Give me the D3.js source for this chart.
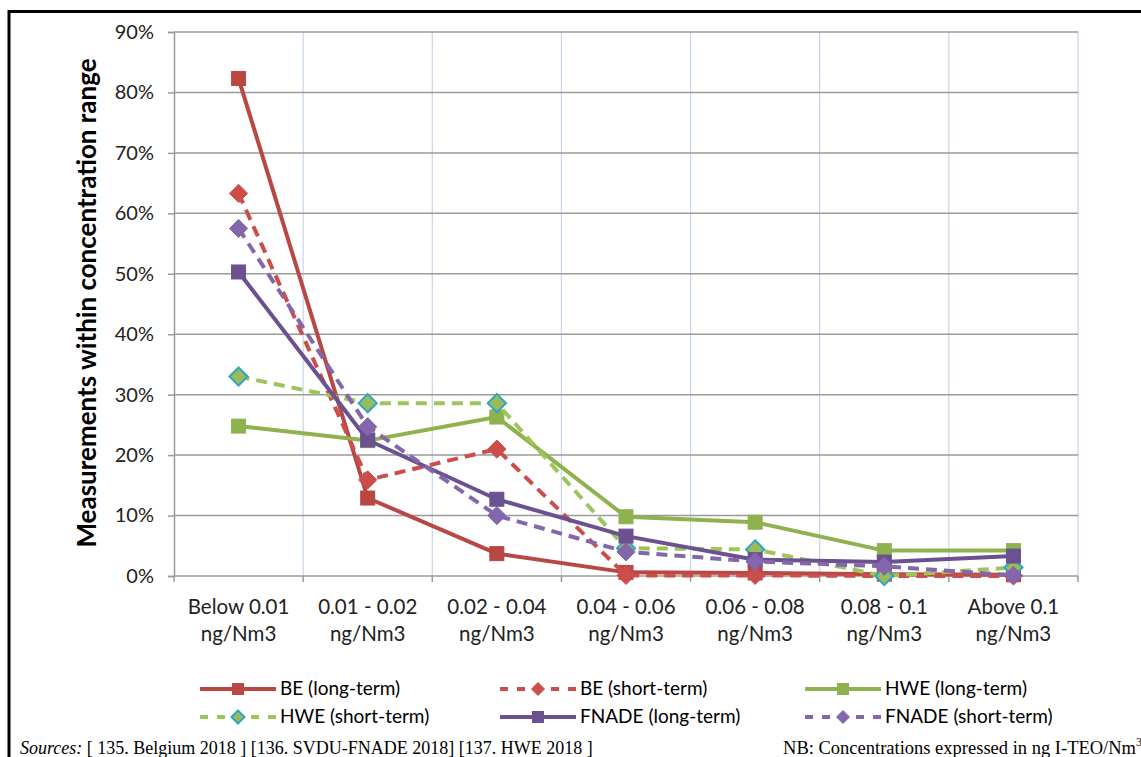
<!DOCTYPE html>
<html><head><meta charset="utf-8">
<script src="https://cdn.jsdelivr.net/npm/d3@7"></script>
<style>
html,body{margin:0;padding:0;background:#fff;}
svg{display:block;}
</style></head>
<body>
<svg id="chart" width="1141" height="757"></svg>
<script>
const categories = ["Below 0.01|ng/Nm3","0.01 - 0.02|ng/Nm3","0.02 - 0.04|ng/Nm3","0.04 - 0.06|ng/Nm3","0.06 - 0.08|ng/Nm3","0.08 - 0.1|ng/Nm3","Above 0.1|ng/Nm3"];
const yTicks = [0,10,20,30,40,50,60,70,80,90];
const beLong = [82.3, 12.9, 3.7, 0.6, 0.5, 0.3, 0.2];
const beShort = [63.3, 15.9, 21.0, 0.1, 0.1, 0.0, 0.0];
const hweLong = [24.8, 22.4, 26.3, 9.8, 8.9, 4.2, 4.2];
const hweShort = [33.0, 28.6, 28.6, 4.6, 4.4, 0.0, 1.4];
const fnadeLong = [50.3, 22.5, 12.7, 6.6, 2.7, 2.3, 3.3];
const fnadeShort = [57.5, 24.7, 10.0, 4.0, 2.4, 1.6, 0.1];
const seriesNames = ["BE (long-term)","BE (short-term)","HWE (long-term)","HWE (short-term)","FNADE (long-term)","FNADE (short-term)"];

const series = [
  {name: seriesNames[0], values: beLong, color:"#B94743", dash:null, marker:"square", fill:"#B94743", stroke:"#B94743"},
  {name: seriesNames[1], values: beShort, color:"#CC4E4A", dash:"11,7", marker:"diamond", fill:"#CC4E4A", stroke:"#CC4E4A"},
  {name: seriesNames[2], values: hweLong, color:"#8EB24D", dash:null, marker:"square", fill:"#8EB24D", stroke:"#8EB24D"},
  {name: seriesNames[3], values: hweShort, color:"#9DC55A", dash:"11,7", marker:"diamond", fill:"#9BBB59", stroke:"#2FA6C8"},
  {name: seriesNames[4], values: fnadeLong, color:"#6B5190", dash:null, marker:"square", fill:"#6B5190", stroke:"#6B5190"},
  {name: seriesNames[5], values: fnadeShort, color:"#8466AA", dash:"11,7", marker:"diamond", fill:"#8466AA", stroke:"#8466AA"}
];

const svg = d3.select("#chart");
const font = "Lato, 'Open Sans', sans-serif";
const pLeft = 174, pRight = 1078, pTop = 32, pBottom = 576;

// frame
svg.append("line").attr("x1",8).attr("x2",1141).attr("y1",11.5).attr("y2",11.5).attr("stroke","#000").attr("stroke-width",3);
svg.append("line").attr("x1",9).attr("x2",9).attr("y1",10).attr("y2",757).attr("stroke","#000").attr("stroke-width",3);

const x = d3.scaleBand().domain(categories).range([pLeft, pRight]).paddingInner(0).paddingOuter(0);
const y = d3.scaleLinear().domain([0, 90]).range([pBottom, pTop]);
const cx = c => x(c) + x.bandwidth()/2;

// vertical gridlines (category boundaries)
const bounds = categories.map(c => x(c) + x.bandwidth());
svg.append("g").selectAll("line").data(bounds).join("line")
  .attr("x1", d => d).attr("x2", d => d).attr("y1", pTop).attr("y2", pBottom)
  .attr("stroke", "#C5D5EA").attr("stroke-width", 1.2);

// horizontal gridlines
svg.append("g").selectAll("line").data(yTicks.filter(t => t > 0)).join("line")
  .attr("x1", pLeft).attr("x2", pRight).attr("y1", d => y(d)).attr("y2", d => y(d))
  .attr("stroke", "#9A9A9A").attr("stroke-width", 1.5);

// y axis
const yAxis = d3.axisLeft(y).tickValues(yTicks).tickFormat(d => d + "%").tickSize(6).tickPadding(14);
const gy = svg.append("g").attr("transform", `translate(${pLeft},0)`).call(yAxis);
gy.select(".domain").attr("stroke", "#9A9A9A").attr("stroke-width", 1.5);
gy.selectAll(".tick line").attr("stroke", "#9A9A9A").attr("stroke-width", 1.5);
gy.selectAll(".tick text").attr("font-family", font).attr("font-size", 20).attr("fill", "#222");

// x axis
const xAxis = d3.axisBottom(x).tickSize(0).tickFormat("");
const gx = svg.append("g").attr("transform", `translate(0,${pBottom})`).call(xAxis);
gx.select(".domain").attr("stroke", "#9A9A9A").attr("stroke-width", 1.5).attr("d", `M${pLeft},0H${pRight}`);
svg.append("g").selectAll("line").data([pLeft].concat(bounds)).join("line")
  .attr("x1", d => d).attr("x2", d => d).attr("y1", pBottom).attr("y2", pBottom + 6)
  .attr("stroke", "#9A9A9A").attr("stroke-width", 1.5);
const xl = svg.append("g").selectAll("text").data(categories).join("text")
  .attr("x", d => cx(d)).attr("y", 614).attr("text-anchor", "middle")
  .attr("font-family", font).attr("font-size", 20.5).attr("fill", "#222");
xl.each(function(d){
  const parts = d.split("|");
  d3.select(this).selectAll("tspan").data(parts).join("tspan")
    .attr("x", cx(d)).attr("dy", (p, i) => i === 0 ? 0 : 27).text(p => p);
});

// y title
svg.append("text").attr("transform", "translate(96,303) rotate(-90)")
  .attr("text-anchor", "middle").attr("font-family", font).attr("font-weight", "bold")
  .attr("font-size", 26).attr("fill", "#000").text("Measurements within concentration range");

// markers
function drawMarker(g, s, px, py, size) {
  if (s.marker === "square") {
    g.append("rect").attr("x", px - size/2).attr("y", py - size/2).attr("width", size).attr("height", size)
      .attr("fill", s.fill).attr("stroke", s.stroke).attr("stroke-width", 1);
  } else {
    const r = size * 0.65;
    g.append("path").attr("d", `M${px},${py-r}L${px+r},${py}L${px},${py+r}L${px-r},${py}Z`)
      .attr("fill", s.fill).attr("stroke", s.stroke).attr("stroke-width", s.stroke === s.fill ? 1 : 2);
  }
}

const line = d3.line().x((d, i) => cx(categories[i])).y(d => y(d));
const plot = svg.append("g");
series.forEach(s => {
  const g = plot.append("g");
  g.append("path").attr("d", line(s.values)).attr("fill", "none").attr("stroke", s.color)
    .attr("stroke-width", 4).attr("stroke-dasharray", s.dash).attr("stroke-linejoin", "round");
  s.values.forEach((v, i) => drawMarker(g, s, cx(categories[i]), y(v), 14));
});

// legend
const legCols = [200, 500, 805];
const legRows = [689, 717];
series.forEach((s, i) => {
  const lx = legCols[i % 3], ly = legRows[Math.floor(i / 3)];
  const g = svg.append("g");
  g.append("line").attr("x1", lx).attr("x2", lx + 76).attr("y1", ly).attr("y2", ly)
    .attr("stroke", s.color).attr("stroke-width", 4).attr("stroke-dasharray", s.dash ? "8,9" : null);
  drawMarker(g, s, lx + 38, ly, s.marker === "square" ? 11 : 10);
  g.append("text").attr("x", lx + 80).attr("y", ly + 6).attr("font-family", font)
    .attr("font-size", 19).attr("fill", "#000").text(s.name);
});

// footer
const serif = "'Liberation Serif', 'Times New Roman', serif";
const ft = svg.append("text").attr("x", 20).attr("y", 754).attr("font-family", serif)
  .attr("font-size", 18).attr("fill", "#000");
ft.append("tspan").attr("font-style", "italic").text("Sources:");
ft.append("tspan").text(" [ 135. Belgium 2018 ] [136. SVDU-FNADE 2018] [137. HWE 2018 ]");
const nb = svg.append("text").attr("x", 1142).attr("y", 754).attr("text-anchor", "end")
  .attr("font-family", serif).attr("font-size", 18.5).attr("fill", "#000");
nb.append("tspan").text("NB: Concentrations expressed in ng I-TEO/Nm");
nb.append("tspan").attr("font-size", 12).attr("dy", -8).text("3");
</script>
</body></html>
